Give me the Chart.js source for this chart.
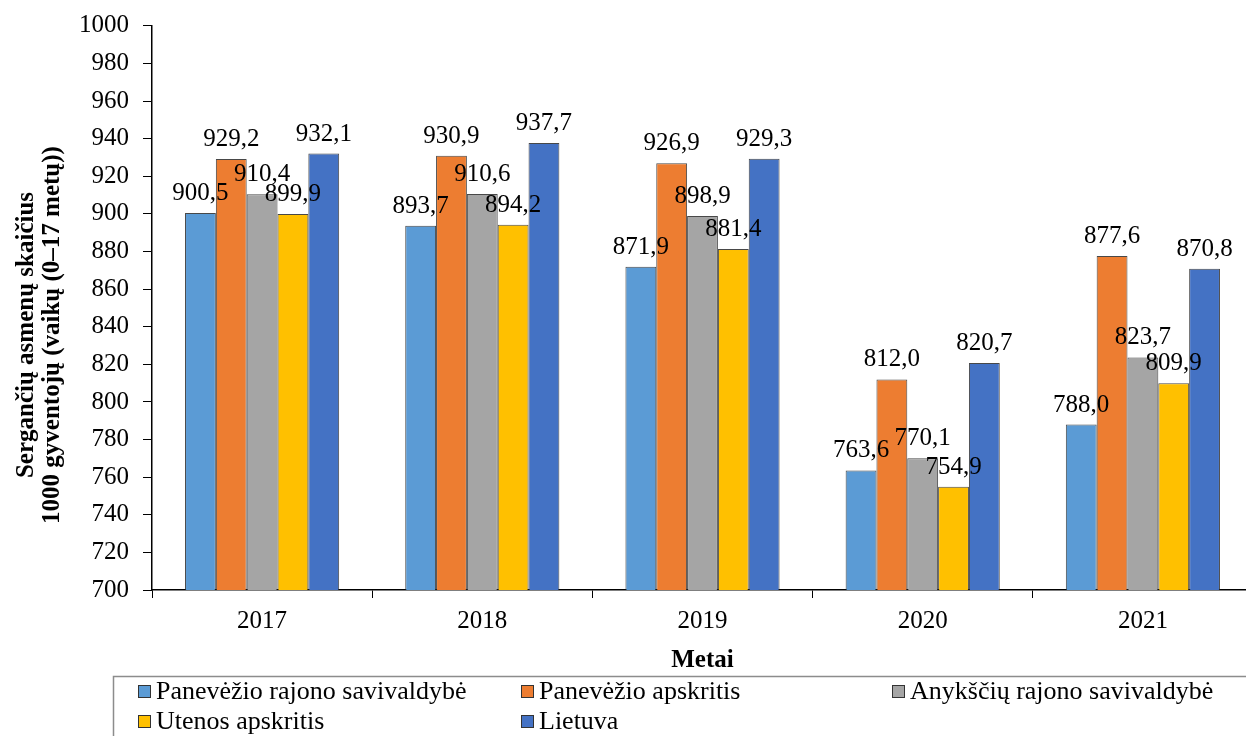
<!DOCTYPE html>
<html>
<head>
<meta charset="utf-8">
<script src="https://cdn.jsdelivr.net/npm/chart.js@4.4.1/dist/chart.umd.min.js"></script>
<style>
    body { margin: 0; overflow: hidden; background: #fff; }
    #wrap { position: absolute; left: 0; top: 0; width: 1256px; height: 736px; }
</style>
</head>
<body>
<div id="wrap"><canvas id="myChart"></canvas></div>
<script>
const years = ['2017', '2018', '2019', '2020', '2021'];

const panevezioRajonas = [900.5, 893.7, 871.9, 763.6, 788.0];
const panevezioApskritis = [929.2, 930.9, 926.9, 812.0, 877.6];
const anyksciuRajonas = [910.4, 910.6, 898.9, 770.1, 823.7];
const utenosApskritis = [899.9, 894.2, 881.4, 754.9, 809.9];
const lietuva = [932.1, 937.7, 929.3, 820.7, 870.8];

const seriesNames = [
    'Panevėžio rajono savivaldybė',
    'Panevėžio apskritis',
    'Anykščių rajono savivaldybė',
    'Utenos apskritis',
    'Lietuva'
];
const seriesValues = [panevezioRajonas, panevezioApskritis, anyksciuRajonas, utenosApskritis, lietuva];
const colours = ['#5B9BD5', '#ED7D31', '#A5A5A5', '#FFC000', '#4472C4'];
const yTitle = ['Sergančių asmenų skaičius', '1000 gyventojų (vaikų (0–17 metų))'];

const serif = "'Liberation Serif', 'DejaVu Serif', serif";

function formatValue(v) {
    return v.toFixed(1).replace('.', ',');
}

// value labels above every bar
const barLabels = {
    id: 'barLabels',
    afterDatasetsDraw(chart) {
        const ctx = chart.ctx;
        ctx.save();
        ctx.font = '25px ' + serif;
        ctx.fillStyle = '#000';
        ctx.textAlign = 'center';
        ctx.textBaseline = 'alphabetic';
        chart.data.datasets.forEach((ds, i) => {
            chart.getDatasetMeta(i).data.forEach((bar, j) => {
                ctx.fillText(formatValue(ds.data[j]), bar.x, bar.y - 13);
            });
        });
        ctx.restore();
    }
};

// two-line rotated y title, sitting a little below the axis middle
const sideTitle = {
    id: 'sideTitle',
    afterDraw(chart) {
        const ctx = chart.ctx;
        ctx.save();
        ctx.font = 'bold 25px ' + serif;
        ctx.fillStyle = '#000';
        ctx.textAlign = 'center';
        ctx.textBaseline = 'middle';
        ctx.translate(0, 335);
        ctx.rotate(-Math.PI / 2);
        ctx.fillText(yTitle[0], 0, 27);
        ctx.fillText(yTitle[1], 0, 53);
        ctx.restore();
    }
};

// boxed legend in three columns below the axis title
const boxLegend = {
    id: 'boxLegend',
    afterDraw(chart) {
        const ctx = chart.ctx;
        const colX = [138, 521, 892];
        const rowY = [691, 721];
        ctx.save();
        ctx.strokeStyle = '#8c8c8c';
        ctx.lineWidth = 1.5;
        ctx.strokeRect(113.5, 676.5, chart.width, 80);
        ctx.font = '26px ' + serif;
        ctx.textBaseline = 'middle';
        ctx.textAlign = 'left';
        chart.data.datasets.forEach((ds, i) => {
            const x = colX[i % 3];
            const y = rowY[Math.floor(i / 3)];
            ctx.fillStyle = ds.backgroundColor;
            ctx.fillRect(x, y - 6, 13, 13);
            ctx.strokeStyle = '#333';
            ctx.lineWidth = 1;
            ctx.strokeRect(x + 0.5, y - 5.5, 12, 12);
            ctx.fillStyle = '#000';
            ctx.fillText(ds.label, x + 18, y + 1);
        });
        ctx.restore();
    }
};

const data = {
    labels: years,
    datasets: seriesNames.map((name, i) => ({
        label: name,
        data: seriesValues[i],
        backgroundColor: colours[i],
        borderColor: 'rgba(40, 40, 40, 0.85)',
        borderWidth: 1,
        categoryPercentage: 0.7,
        barPercentage: 1.0
    }))
};

const config = {
    type: 'bar',
    data: data,
    options: {
        responsive: true,
        maintainAspectRatio: false,
        animation: false,
        layout: {
            padding: { left: 65, right: 3, top: 0, bottom: 60 }
        },
        plugins: {
            legend: { display: false },
            tooltip: { enabled: false }
        },
        scales: {
            x: {
                grid: {
                    display: true,
                    drawOnChartArea: false,
                    drawTicks: true,
                    tickLength: 8,
                    color: '#000',
                    offset: true
                },
                border: { color: '#000', width: 1.5 },
                ticks: {
                    color: '#000',
                    padding: 8,
                    font: { family: serif, size: 25 }
                },
                title: {
                    display: true,
                    text: 'Metai',
                    color: '#000',
                    padding: { top: 2, bottom: 0 },
                    font: { family: serif, size: 25, weight: 'bold' }
                }
            },
            y: {
                min: 700,
                max: 1000,
                grid: {
                    display: true,
                    drawOnChartArea: false,
                    drawTicks: true,
                    tickLength: 9,
                    color: '#000'
                },
                border: { color: '#000', width: 1.5 },
                ticks: {
                    stepSize: 20,
                    color: '#000',
                    padding: 14,
                    font: { family: serif, size: 25, lineHeight: 0.95 },
                    callback: (value) => String(value)
                }
            }
        }
    },
    plugins: [barLabels, sideTitle, boxLegend]
};

const myChart = new Chart(document.getElementById('myChart'), config);
</script>
</body>
</html>
